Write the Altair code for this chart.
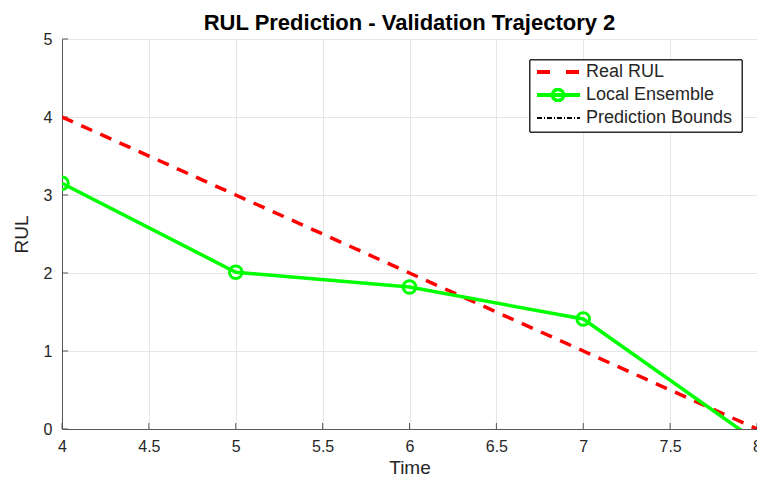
import altair as alt
import pandas as pd

# Data
time_real = [4, 5, 6, 7, 8]
rul_real = [4, 3, 2, 1, 0]
time_pred = [4, 5, 6, 7, 8]
rul_pred = [3.15, 2.01, 1.82, 1.41, -0.16]
x_ticks = [4, 4.5, 5, 5.5, 6, 6.5, 7, 7.5, 8]
y_ticks = [0, 1, 2, 3, 4, 5]
legend_labels = ["Real RUL", "Local Ensemble", "Prediction Bounds"]

df_real = pd.DataFrame({"Time": time_real, "RUL": rul_real})
df_pred = pd.DataFrame({"Time": time_pred, "RUL": rul_pred})
df_xt = pd.DataFrame({"t": x_ticks})
df_yt = pd.DataFrame({"v": y_ticks})

FONT = "Liberation Sans"
AX = "#262626"
DOM = "#555555"
W, H = 695, 390

xs = alt.Scale(domain=[4, 8], nice=False, zero=False)
ys = alt.Scale(domain=[0, 5], nice=False, zero=False)

x_axis = alt.Axis(values=x_ticks, format="~g", title="Time", grid=True, ticks=False,
                  labelPadding=9, titlePadding=4, labelFlush=False)
y_axis = alt.Axis(values=y_ticks, format="~g", title="RUL", grid=True, ticks=False,
                  labelPadding=10, titlePadding=12)

base_axes = alt.Chart(df_real).mark_line(opacity=0).encode(
    x=alt.X("Time:Q", scale=xs, axis=x_axis),
    y=alt.Y("RUL:Q", scale=ys, axis=y_axis),
)

real = alt.Chart(df_real).mark_line(color="#ff0000", strokeWidth=3.5, strokeDash=[12, 9], clip=True).encode(
    x=alt.X("Time:Q", scale=xs), y=alt.Y("RUL:Q", scale=ys)
)

pred_line = alt.Chart(df_pred).mark_line(color="#00ff00", strokeWidth=3.5, clip=True).encode(
    x=alt.X("Time:Q", scale=xs), y=alt.Y("RUL:Q", scale=ys)
)
pred_pts = alt.Chart(df_pred).mark_point(color="#00ff00", filled=False, size=160, strokeWidth=3,
                                         opacity=1, clip=True).encode(
    x=alt.X("Time:Q", scale=xs), y=alt.Y("RUL:Q", scale=ys)
)

# inward ticks
xtick = alt.Chart(df_xt).mark_rule(color=DOM, strokeWidth=1).encode(
    x=alt.X("t:Q", scale=xs), y=alt.value(H), y2=alt.value(H - 6)
)
ytick = alt.Chart(df_yt).mark_rule(color=DOM, strokeWidth=1).encode(
    y=alt.Y("v:Q", scale=ys), x=alt.value(0), x2=alt.value(6)
)

# manual legend
lx0, lx1, ly0, ly1 = 468, 680, 21, 93
rows = [33, 56, 79]
leg_box = alt.Chart(df_real).mark_rect(fill="white", stroke=AX, strokeWidth=1).encode(
    x=alt.value(lx0), x2=alt.value(lx1), y=alt.value(ly0), y2=alt.value(ly1)
)
leg_layers = [leg_box]
styles = [
    dict(color="#ff0000", strokeWidth=3.5, strokeDash=[13, 16]),
    dict(color="#00ff00", strokeWidth=3.5),
    dict(color="black", strokeWidth=2, strokeDash=[5, 2, 1, 2]),
]
for lab, yy, st in zip(legend_labels, rows, styles):
    leg_layers.append(alt.Chart(df_real).mark_rule(**st).encode(
        x=alt.value(475), x2=alt.value(518), y=alt.value(yy)))
    leg_layers.append(alt.Chart(pd.DataFrame({"label": [lab]})).mark_text(
        align="left", baseline="middle", fontSize=18, font=FONT, color=AX).encode(
        x=alt.value(524), y=alt.value(yy), text="label:N"))
leg_layers.append(alt.Chart(df_real).mark_point(color="#00ff00", filled=False, size=120, strokeWidth=3,
                                               opacity=1).encode(
    x=alt.value(496), y=alt.value(rows[1])))

chart = alt.layer(base_axes, xtick, ytick, real, pred_line, pred_pts, *leg_layers).properties(
    width=W, height=H,
    title=alt.TitleParams("RUL Prediction - Validation Trajectory  2", fontSize=22, fontWeight="bold",
                          font=FONT, color="black", anchor="middle", offset=6, dy=10),
    autosize=alt.AutoSizeParams(type="none"),
    padding={"left": 54, "top": 31, "right": 0, "bottom": 50},
).configure_view(stroke=None).configure_axis(
    domainColor=DOM, domainWidth=1, gridColor="#e6e6e6", gridWidth=1,
    labelFont=FONT, labelFontSize=16, labelColor=AX,
    titleFont=FONT, titleFontSize=19, titleColor=AX, titleFontWeight="normal",
)

chart.save("out.html", embed_options={"renderer": "svg", "actions": False})
